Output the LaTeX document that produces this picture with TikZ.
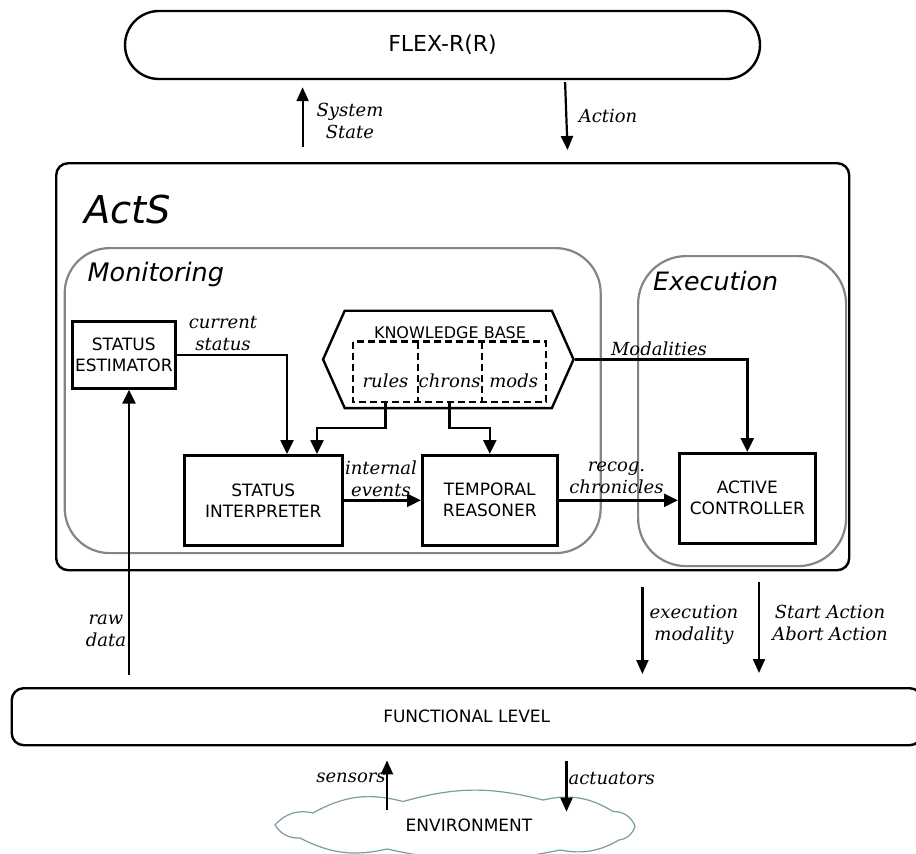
\documentclass[tikz,border=0pt]{standalone}
\usepackage{fontspec}
\setmainfont{DejaVu Serif}
\setsansfont{DejaVu Sans}
\usetikzlibrary{arrows.meta,shapes.symbols,calc}
\definecolor{framegray}{HTML}{858585}
\definecolor{cloudline}{HTML}{789DA2}
\tikzset{
  box/.style={draw, line width=2.6pt, align=center, inner sep=0pt,
    font=\sffamily\fontsize{17}{21}\selectfont},
  area/.style={draw=framegray, line width=2.2pt, inner sep=0pt},
  dbox/.style={minimum width=64pt, minimum height=60pt, inner sep=0pt},
  dline/.style={dash pattern=on 7pt off 4pt, line width=2.2pt},
  lbl/.style={font=\itshape\fontsize{18}{21.5}\selectfont, align=center, inner sep=0pt},
  arr/.style={line width=2.5pt, -{Triangle[length=14pt,width=13pt]}},
  farr/.style={line width=2.2pt, -{Triangle[length=14pt,width=12pt]}},
  title/.style={font=\sffamily\itshape, inner sep=0pt, anchor=base west}
}
\begin{document}
\begin{tikzpicture}[x=1pt, y=-1pt]
\useasboundingbox (0,0) rectangle (916,854);

% upper level
\node[draw, line width=2.4pt, rounded corners=34pt, minimum width=635pt, minimum height=68pt,
  font=\sffamily\fontsize{22}{24}\selectfont] (flex) at (442.5,45) {FLEX-R(R)};

% ActS frame and its two areas
\node[draw, line width=2.4pt, rounded corners=12pt, minimum width=793pt, minimum height=407pt,
  anchor=north west, inner sep=0pt] (acts) at (55,162) {};
\node[title, font=\sffamily\itshape\fontsize{38.4}{40}\selectfont] (actst) at (84,223.3) {ActS};
\node[area, rounded corners=45pt, minimum width=536pt, minimum height=305pt, anchor=north west]
  (mon) at (63.6,247) {};
\node[title, font=\sffamily\itshape\fontsize{25.5}{28}\selectfont] (mont) at (87.5,281.7) {Monitoring};
\node[area, rounded corners=48pt, minimum width=208pt, minimum height=310pt, anchor=north west]
  (exe) at (637,255) {};
\node[title, font=\sffamily\itshape\fontsize{25.3}{28}\selectfont] (exet) at (653,290.7) {Execution};

% components
\node[box, minimum width=103pt, minimum height=67pt, anchor=north west] (se) at (71,320) {STATUS\\ESTIMATOR};
\node[box, minimum width=158pt, minimum height=90pt, anchor=north west] (si) at (183,454) {STATUS\\INTERPRETER};
\node[box, minimum width=135pt, minimum height=90pt, anchor=north west] (tr) at (421,454) {TEMPORAL\\REASONER};
\node[box, minimum width=136pt, minimum height=90pt, anchor=north west] (ac) at (678,452) {ACTIVE\\CONTROLLER};

% knowledge base with its three parts
\node[draw, line width=2.4pt, signal, signal to=west and east, signal pointer angle=132,
  minimum width=250.5pt, minimum height=97.3pt, inner sep=0pt] (kb) at (448.3,359.4) {};
\node[font=\sffamily\fontsize{16}{18}\selectfont, inner sep=0pt] (kbt) at (450,332.7) {KNOWLEDGE BASE};
\node[dbox] (rules) at (385.5,371.7) {};
\node[dbox] (chrons) at (449.7,371.7) {};
\node[dbox] (mods) at (513.7,371.7) {};
\draw[dline] (rules.north west) rectangle (mods.south east);
\draw[dline] (rules.north east) -- (rules.south east);
\draw[dline] (chrons.north east) -- (chrons.south east);
\node[lbl] at ($(rules)+(0,9)$) {rules};
\node[lbl] at ($(chrons)+(0,9)$) {chrons};
\node[lbl] at ($(mods)+(0,9)$) {mods};

% functional level and environment
\node[draw, line width=2.4pt, rounded corners=12pt, minimum width=910pt, minimum height=57pt,
  anchor=north west, font=\sffamily\fontsize{17}{20}\selectfont] (fl) at (10.5,687) {FUNCTIONAL LEVEL};
\filldraw[draw=cloudline, fill=white, line width=1.2pt]
  (275,825) to[bend left=31] (313,813) to[bend left=22] (403,801.5)
  to[bend left=15] (543,800) to[bend left=22] (613,811.5) to[bend left=34] (635,826)
  to[bend left=34] (619,840) to[bend left=20] (560,850) to[bend left=12] (387,849)
  to[bend left=20] (300,838) to[bend left=30] (275,825) -- cycle;
\node[font=\sffamily\fontsize{17}{20}\selectfont, inner sep=0pt] (env) at (469,825) {ENVIRONMENT};

% connectors inside ActS
\draw[arr] (se.east) -| ($(si.north west)+(104,0)$);
\draw[arr] (rules.south) -- ++(0,26) -| ($(si.north west)+(134,0)$);
\draw[arr] (chrons.south) -- ++(0,26) -| (tr.north);
\draw[arr] (si.east) -- (tr.west);
\draw[arr] (tr.east) -- (tr.east -| ac.west);
\draw[arr] (kb.east) -| (ac.north);

% connectors between levels
\coordinate (ssx) at (302.6,0);
\coordinate (acx1) at (565,0);
\coordinate (acx2) at (568,0);
\coordinate (rawx) at (129,0);
\coordinate (emx) at (642.4,0);
\coordinate (sax) at (759,0);
\coordinate (snx) at (387,810);
\coordinate (atx) at (566.5,811.7);
\draw[farr, shorten <=15pt, shorten >=7pt] (acts.north -| ssx) -- (flex.south -| ssx);
\draw[farr, shorten <=2pt, shorten >=12pt] (flex.south -| acx1) -- (acts.north -| acx2);
\draw[arr, shorten <=12pt] (fl.north -| rawx) -- (se.south -| rawx);
\draw[farr, shorten <=16pt, shorten >=13pt] (acts.south -| emx) -- (fl.north -| emx);
\draw[farr, shorten <=11pt, shorten >=14pt] (acts.south -| sax) -- (fl.north -| sax);
\draw[farr, shorten >=14pt] (snx) -- (fl.south -| snx);
\draw[farr, shorten <=15pt] (fl.south -| atx) -- (atx);

% connector labels
\node[lbl] at (350,121) {System\\State};
\node[lbl] at (608,116) {Action};
\node[lbl] at (223,333.3) {current\\status};
\node[lbl] at (381,479) {internal\\events};
\node[lbl] at (616.5,478) {recog.\\chronicles};
\node[lbl] at (659,349) {Modalities};
\node[lbl] at (106,631) {raw\\data};
\node[lbl] at (694,625) {execution\\modality};
\node[lbl] at (830,623) {Start Action\\Abort Action};
\node[lbl] at (351,777.7) {sensors};
\node[lbl] at (611.7,778) {actuators};
\end{tikzpicture}
\end{document}
